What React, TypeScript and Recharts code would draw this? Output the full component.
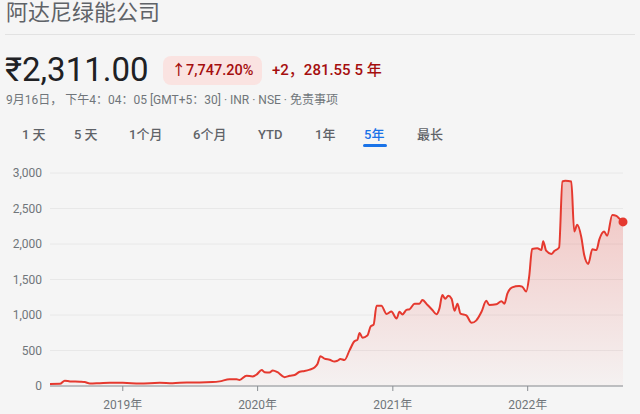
import React from 'react';
import { AreaChart, Area, XAxis, YAxis, CartesianGrid, ReferenceDot } from 'recharts';

const dates = [
  '2018-06-18','2018-07-15','2018-07-28','2018-08-11','2018-09-07','2018-09-20','2018-10-04','2018-10-31','2018-11-27',
  '2019-01-01','2019-02-16','2019-04-11','2019-05-16','2019-06-23','2019-07-28','2019-09-01','2019-09-20','2019-10-17',
  '2019-11-05','2019-11-13','2019-12-02','2019-12-18','2019-12-29',
  '2020-01-12','2020-01-20','2020-02-02','2020-02-11','2020-02-24','2020-03-14','2020-03-28','2020-04-10','2020-04-24',
  '2020-05-07','2020-05-21','2020-06-03','2020-06-11','2020-06-19','2020-06-30','2020-07-14','2020-07-27','2020-08-04',
  '2020-08-12','2020-08-23','2020-09-06','2020-09-19','2020-09-27','2020-10-03','2020-10-11','2020-10-24','2020-11-02',
  '2020-11-10','2020-11-18','2020-12-01','2020-12-15','2020-12-28',
  '2021-01-11','2021-01-19','2021-01-27','2021-02-07','2021-02-15','2021-03-01','2021-03-14','2021-03-22','2021-04-05',
  '2021-04-18','2021-04-29','2021-05-07','2021-05-15','2021-05-23','2021-05-31','2021-06-09','2021-06-17','2021-06-25',
  '2021-07-03','2021-07-19','2021-08-02','2021-08-15','2021-08-29','2021-09-11','2021-09-19','2021-10-08','2021-10-22',
  '2021-10-30','2021-11-07','2021-11-20','2021-12-09','2021-12-17','2021-12-28',
  '2022-01-05','2022-01-13','2022-01-27','2022-02-07','2022-02-12','2022-02-20','2022-03-06','2022-03-14','2022-03-27',
  '2022-04-05','2022-04-13','2022-04-29','2022-05-07','2022-05-15','2022-05-26','2022-06-03','2022-06-14','2022-06-25',
  '2022-07-06','2022-07-14','2022-07-27','2022-08-04','2022-08-18','2022-08-29','2022-09-06','2022-09-16'
];

const prices = [
  28,30,75,65,60,55,35,40,45,
  45,35,45,40,50,50,55,65,95,
  95,85,145,135,160,
  225,195,190,220,195,125,145,155,200,
  210,230,260,310,420,385,370,345,355,
  380,365,505,630,650,745,680,710,840,
  865,1130,1130,1015,1050,
  950,1045,1008,1072,1080,1160,1160,1210,1140,
  1070,1010,1090,1280,1230,1270,1230,1060,1160,
  1020,995,890,925,1045,1200,1140,1150,1195,
  1160,1300,1390,1410,1400,1330,
  1540,1930,1940,1915,2040,1905,1860,1900,1950,
  2880,2890,2880,2175,2270,2100,1845,1720,1925,
  1915,2065,2175,2115,2410,2395,2360,2311
];

const yTicks = [0, 500, 1000, 1500, 2000, 2500, 3000];
const xTickDates = ['2019-01-01', '2020-01-01', '2021-01-01', '2022-01-01'];
const xTickLabels = ['2019年', '2020年', '2021年', '2022年'];
const tabs = ['1 天', '5 天', '1个月', '6个月', 'YTD', '1年', '5年', '最长'];
const tabLefts = [22, 74, 129, 193, 258, 315, 364, 417];
const activeTab = 6;

const data = dates.map((d, i) => ({ t: Date.parse(d), v: prices[i] }));
const xTicks = xTickDates.map((d) => Date.parse(d));
const last = data[data.length - 1];

const FONT = "Roboto, 'Noto Sans CJK SC', 'Noto Sans', sans-serif";
const RED = '#e5392f';

export default function App() {
  return (
    <div
      style={{
        position: 'absolute',
        left: 0,
        top: 0,
        width: 640,
        height: 414,
        background: '#f5f5f5',
        fontFamily: FONT,
        overflow: 'hidden',
      }}
    >
      <div style={{ position: 'absolute', left: 6, top: -1, fontSize: 22, color: '#5f6368', lineHeight: '28px' }}>
        阿达尼绿能公司
      </div>
      <div style={{ position: 'absolute', left: 5, top: 34, width: 630, height: 1, background: '#e2e2e2' }} />
      <div style={{ position: 'absolute', left: 5, top: 50, fontSize: 33, color: '#202124', lineHeight: '40px' }}>
        ₹2,311.00
      </div>
      <div
        style={{
          position: 'absolute',
          left: 163,
          top: 56,
          width: 99,
          height: 29,
          borderRadius: 8,
          background: '#fae3e1',
          color: '#a50e0e',
          fontSize: 14.5,
          fontWeight: 500,
          lineHeight: '29px',
          textAlign: 'center',
        }}
      >
        ↑7,747.20%
      </div>
      <div
        style={{
          position: 'absolute',
          left: 272,
          top: 60,
          fontSize: 15,
          fontWeight: 500,
          color: '#a50e0e',
          lineHeight: '20px',
          whiteSpace: 'nowrap',
        }}
      >
        +2，281.55 5 年
      </div>
      <div
        style={{
          position: 'absolute',
          left: 6,
          top: 92,
          fontSize: 12,
          color: '#70757a',
          lineHeight: '16px',
          whiteSpace: 'nowrap',
        }}
      >
        9月16日， 下午4：04：05 [GMT+5：30] · INR · NSE · 免责事项
      </div>
      {tabs.map((t, i) => (
        <div
          key={t}
          style={{
            position: 'absolute',
            left: tabLefts[i],
            top: 126,
            fontSize: 13,
            fontWeight: 500,
            lineHeight: '18px',
            color: i === activeTab ? '#1a73e8' : '#5f6368',
            whiteSpace: 'nowrap',
          }}
        >
          {t}
          {i === activeTab && (
            <div
              style={{
                position: 'absolute',
                left: -1,
                top: 18,
                width: 24,
                height: 3,
                borderRadius: 2,
                background: '#1a73e8',
              }}
            />
          )}
        </div>
      ))}
      <div style={{ position: 'absolute', left: 0, top: 160 }}>
        <AreaChart width={640} height={254} data={data} margin={{ top: 13, right: 17, left: 0, bottom: 0 }}>
          <defs>
            <linearGradient id="fillGrad" x1="0" y1="0" x2="0" y2="1">
              <stop offset="0%" stopColor={RED} stopOpacity={0.27} />
              <stop offset="100%" stopColor={RED} stopOpacity={0.02} />
            </linearGradient>
          </defs>
          <CartesianGrid vertical={false} stroke="#e8e8e8" />
          <XAxis
            dataKey="t"
            type="number"
            domain={[data[0].t, last.t]}
            ticks={xTicks}
            interval={0}
            tickFormatter={(v: number) => xTickLabels[xTicks.indexOf(v)] ?? ''}
            height={28}
            tickSize={5}
            tickMargin={9}
            axisLine={{ stroke: '#8a8e93' }}
            tickLine={{ stroke: '#8a8e93' }}
            tick={{ fill: '#70757a', fontSize: 12, fontFamily: FONT }}
          />
          <YAxis
            type="number"
            domain={[0, 3000]}
            ticks={yTicks}
            width={50}
            axisLine={false}
            tickLine={false}
            tickFormatter={(v: number) => v.toLocaleString('en-US')}
            tick={{ fill: '#70757a', fontSize: 12, fontFamily: FONT }}
          />
          <Area
            type="monotone"
            dataKey="v"
            stroke={RED}
            strokeWidth={2}
            fill="url(#fillGrad)"
            fillOpacity={1}
            dot={false}
            activeDot={false}
            isAnimationActive={false}
          />
          <ReferenceDot x={last.t} y={last.v} r={4.5} fill={RED} stroke="none" />
        </AreaChart>
      </div>
    </div>
  );
}
